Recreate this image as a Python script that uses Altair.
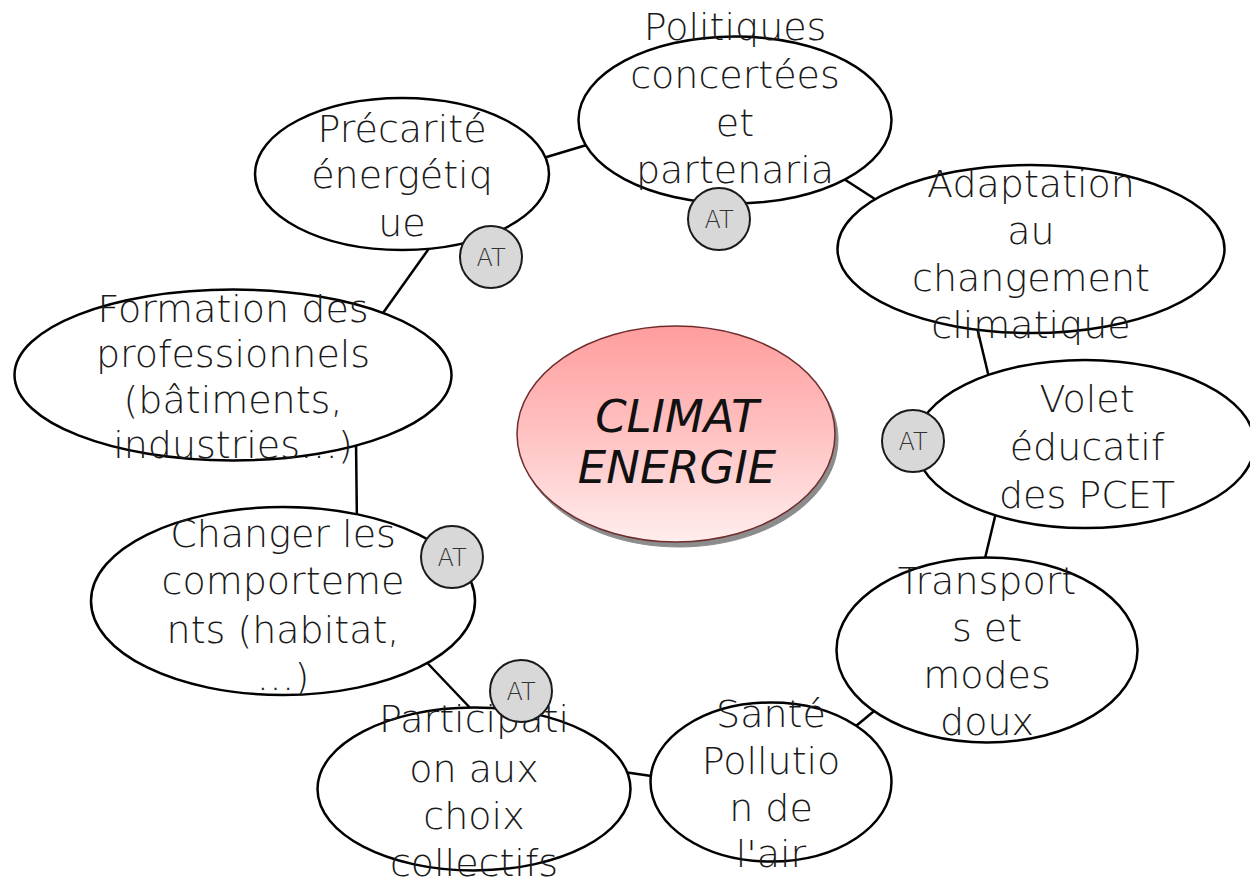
import altair as alt
import pandas as pd

# ---- nodes (image pixel coordinates) ----
node_names = ["Précarité", "Politiques", "Adaptation", "Volet", "Transports",
              "Santé", "Participation", "Changer", "Formation"]
node_cx = [402, 735, 1031, 1085, 987, 771, 474, 283, 233]
node_cy = [174, 120, 249, 444, 650, 782, 789, 601, 375]
node_w = [294, 313, 387, 339, 301, 241, 313, 384, 437]
node_h = [152, 167, 168, 168, 185, 159, 163, 188, 171]

node_lines = [
    ["Précarité", "énergétiq", "ue"],
    ["Politiques", "concertées", "et", "partenaria"],
    ["Adaptation", "au", "changement", "climatique"],
    ["Volet", "éducatif", "des PCET"],
    ["Transport", "s et", "modes", "doux"],
    ["Santé", "Pollutio", "n de", "l'air"],
    ["Participati", "on aux", "choix", "collectifs"],
    ["Changer les", "comporteme", "nts (habitat,", "…)"],
    ["Formation des", "professionnels", "(bâtiments,", "industries…)"],
]
node_text_x = [402, 735, 1031, 1087, 987, 771, 474, 283, 233]
node_baselines = [
    [142, 188, 236],
    [40, 88, 136, 183],
    [197, 244, 291, 338],
    [412, 460, 508],
    [594, 641, 688, 735],
    [727, 774, 821, 867],
    [732, 782, 829, 876],
    [547, 594, 643, 690],
    [322, 367, 413, 458],
]

# ---- connectors ----
edge_x1 = [520, 830, 974, 999, 845, 610, 415, 356, 378]
edge_y1 = [165, 170, 315, 500, 735, 770, 650, 440, 320]
edge_x2 = [610, 895, 992, 981, 890, 672, 475, 357, 440]
edge_y2 = [138, 212, 390, 575, 698, 779, 713, 528, 233]

# ---- AT badges ----
at_cx = [491, 719, 913, 452, 521]
at_cy = [257, 219, 441, 557, 691]
at_d = [62, 62, 62, 62, 62]

# ---- centre ----
centre_lines = ["CLIMAT", "ENERGIE"]
centre_baselines = [432, 483]
centre_cx, centre_cy, centre_w, centre_h = 676, 434, 318, 216


def ellipse_path(ratio):
    k = 0.5523
    r = ratio
    return (f"M -1 0 C -1 {-k*r:.4f} {-k:.4f} {-r:.4f} 0 {-r:.4f} "
            f"C {k:.4f} {-r:.4f} 1 {-k*r:.4f} 1 0 "
            f"C 1 {k*r:.4f} {k:.4f} {r:.4f} 0 {r:.4f} "
            f"C {-k:.4f} {r:.4f} -1 {k*r:.4f} -1 0 Z")


nodes = pd.DataFrame({
    "name": node_names, "x": node_cx, "y": node_cy,
    "path": [ellipse_path(h / w) for w, h in zip(node_w, node_h)],
    "size": [w * w for w in node_w],
})

rows = []
for lines, bl, tx in zip(node_lines, node_baselines, node_text_x):
    for t, b in zip(lines, bl):
        rows.append({"x": tx, "y": b, "text": t})
labels = pd.DataFrame(rows)

edges = pd.DataFrame({"x": edge_x1, "y": edge_y1, "x2": edge_x2, "y2": edge_y2})

ats = pd.DataFrame({"x": at_cx, "y": at_cy,
                    "path": [ellipse_path(1.0) for _ in at_cx],
                    "size": [d * d for d in at_d],
                    "ty": [c + 9 for c in at_cy], "text": ["AT"] * len(at_cx)})

centre = pd.DataFrame({"x": [centre_cx], "y": [centre_cy],
                       "sx": [centre_cx + 3], "sy": [centre_cy + 5],
                       "path": [ellipse_path(centre_h / centre_w)],
                       "size": [centre_w * centre_w]})
centre_txt = pd.DataFrame({"x": [centre_cx + 1] * 2, "y": centre_baselines,
                           "text": centre_lines})

xs = alt.Scale(domain=[8, 1250], nice=False, zero=False)
ys = alt.Scale(domain=[879, 8], nice=False, zero=False)
FONT = "DejaVu Sans ExtraLight, DejaVu Sans"


def X(f="x"):
    return alt.X(f"{f}:Q", scale=xs, axis=None)


def Y(f="y"):
    return alt.Y(f"{f}:Q", scale=ys, axis=None)


rules = alt.Chart(edges).mark_rule(color="black", strokeWidth=2.5).encode(
    x=X(), y=Y(), x2="x2:Q", y2="y2:Q")

ell = alt.Chart(nodes).mark_point(fill="white", stroke="black", strokeWidth=2.5,
                                  opacity=1, fillOpacity=1).encode(
    x=X(), y=Y(),
    shape=alt.Shape("path:N", scale=None),
    size=alt.Size("size:Q", scale=None))

shadow = alt.Chart(centre).mark_point(fill="#8c8c8c", stroke="#8c8c8c", strokeWidth=1,
                                      opacity=1, fillOpacity=1).encode(
    x=X("sx"), y=Y("sy"),
    shape=alt.Shape("path:N", scale=None),
    size=alt.Size("size:Q", scale=None))

grad = {"gradient": "linear", "x1": 0, "y1": 0, "x2": 0, "y2": 1,
        "stops": [{"offset": 0, "color": "#ff9d9d"},
                  {"offset": 0.5, "color": "#ffc2c2"},
                  {"offset": 1, "color": "#ffeded"}]}
centre_ell = alt.Chart(centre).mark_point(fill=grad, stroke="#6e2c2c", strokeWidth=1.5,
                                          opacity=1, fillOpacity=1).encode(
    x=X(), y=Y(),
    shape=alt.Shape("path:N", scale=None),
    size=alt.Size("size:Q", scale=None))

centre_text = alt.Chart(centre_txt).mark_text(
    font=FONT, fontSize=45, fontWeight=200, fontStyle="italic",
    color="#111111", baseline="alphabetic", align="center").encode(
    x=X(), y=Y(), text="text:N")

txt = alt.Chart(labels).mark_text(
    font=FONT, fontSize=38, fontWeight=200,
    color="#1a1a1a", baseline="alphabetic", align="center").encode(
    x=X(), y=Y(), text="text:N")

at_c = alt.Chart(ats).mark_point(fill="#d8d8d8", stroke="#1a1a1a", strokeWidth=2,
                                 opacity=1, fillOpacity=1).encode(
    x=X(), y=Y(),
    shape=alt.Shape("path:N", scale=None),
    size=alt.Size("size:Q", scale=None))

at_t = alt.Chart(ats).mark_text(
    font=FONT, fontSize=24, fontWeight=200, color="#333333",
    baseline="alphabetic", align="center").encode(
    x=X(), y=Y("ty"), text="text:N")

chart = alt.layer(rules, ell, shadow, centre_ell, centre_text, txt, at_c, at_t).properties(
    width=1242, height=871, padding=0, autosize="none", background="white"
).configure_view(stroke=None)

chart.save("out.html", embed_options={"renderer": "svg", "actions": False})
